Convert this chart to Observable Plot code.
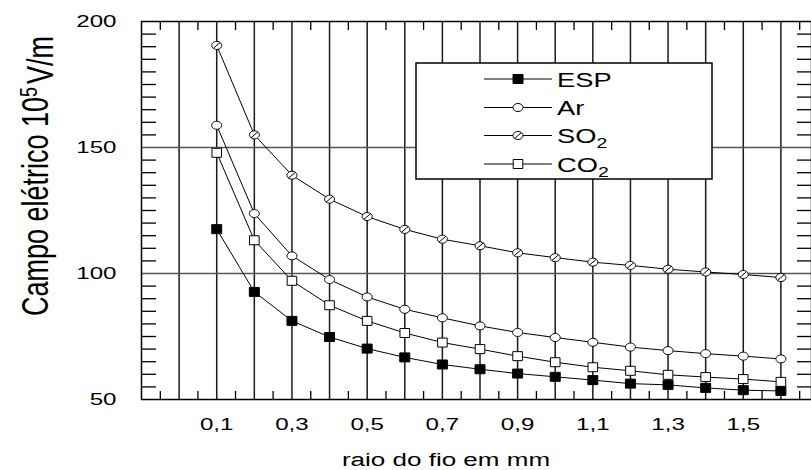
<!DOCTYPE html>
<html><head><meta charset="utf-8">
<script src="https://cdn.jsdelivr.net/npm/d3@7"></script>
<script src="https://cdn.jsdelivr.net/npm/@observablehq/plot@0.6"></script>
<style>html,body{margin:0;padding:0;background:#fff;overflow:hidden}</style>
</head><body><div id="chart"></div>
<script>
// ---- data ----
const raio = [0.1,0.2,0.3,0.4,0.5,0.6,0.7,0.8,0.9,1.0,1.1,1.2,1.3,1.4,1.5,1.6];
const esp  = [117.6,92.7,81.2,74.8,70.2,66.7,63.9,62.0,60.3,59.0,57.7,56.3,55.8,54.6,53.7,53.4];
const ar   = [158.8,123.8,107.0,97.6,90.7,85.8,82.4,79.2,76.6,74.6,72.7,70.8,69.4,68.2,67.2,66.1];
const so2  = [190.5,155.0,139.0,129.5,122.6,117.5,113.6,111.0,108.2,106.3,104.5,103.2,101.7,100.6,99.6,98.4];
const co2  = [147.9,113.2,97.1,87.4,81.2,76.4,72.6,70.0,67.2,64.8,62.8,61.4,59.8,58.9,58.1,57.0];
const seriesNames = ["ESP","Ar","SO2","CO2"];
const legendBase = ["ESP","Ar","SO","CO"];
const legendSub  = ["","","2","2"];
const xTickValues = [0.1,0.3,0.5,0.7,0.9,1.1,1.3,1.5];
const yTickValues = [50,100,150,200];
const xGrid = [0,0.1,0.2,0.3,0.4,0.5,0.6,0.7,0.8,0.9,1.0,1.1,1.2,1.3,1.4,1.5,1.6];
const yGrid = [100,150];
const xMinor = [-0.05,0.05,0.15,0.25,0.35,0.45,0.55,0.65,0.75,0.85,0.95,1.05,1.15,1.25,1.35,1.45,1.55,1.65];
const yMinor = [55,60,65,70,75,80,85,90,95,105,110,115,120,125,130,135,140,145,155,160,165,170,175,180,185,190,195];
const xLabel = "raio do fio em mm";
const yLabelMain = "Campo elétrico 10";
const yLabelSup = "5";
const yLabelUnit = "V/m";

// ---- tidy table ----
const valuesBySeries = [esp, ar, so2, co2];
const rows = [];
seriesNames.forEach((s, i) => raio.forEach((x, j) => rows.push({serie: s, x, y: valuesBySeries[i][j]})));
const of = s => rows.filter(d => d.serie === s);

// ---- marker symbols ----
function ellipsePath(c, rx, ry) {
  const n = 28;
  for (let i = 0; i <= n; i++) {
    const a = 2 * Math.PI * i / n;
    const px = rx * Math.cos(a), py = ry * Math.sin(a);
    if (i === 0) c.moveTo(px, py); else c.lineTo(px, py);
  }
  c.closePath();
}
const symSquare = {draw(c) { c.moveTo(-5,-4.5); c.lineTo(5,-4.5); c.lineTo(5,4.5); c.lineTo(-5,4.5); c.closePath(); }};
const symOpenSquare = {draw(c) { c.moveTo(-4.8,-4.5); c.lineTo(4.8,-4.5); c.lineTo(4.8,4.5); c.lineTo(-4.8,4.5); c.closePath(); }};
const symEllipse = {draw(c) { ellipsePath(c, 5, 4); }};
const symSlash = {draw(c) { ellipsePath(c, 5, 4); c.moveTo(3.4,-2.9); c.lineTo(-3.4,2.9); }};
const markerStyle = [
  {symbol: symSquare, fill: "black"},
  {symbol: symEllipse, fill: "white"},
  {symbol: symSlash, fill: "white"},
  {symbol: symOpenSquare, fill: "white"}
];

const fmt = d => String(d).replace(".", ",");

const plot = Plot.plot({
  width: 811,
  height: 470,
  marginTop: 21,
  marginBottom: 71,
  marginLeft: 141,
  marginRight: 0,
  x: {domain: [-0.1, 1.7], range: [141, 818]},
  y: {domain: [50, 200]},
  style: {fontFamily: "Liberation Sans, Arial, sans-serif", color: "black", background: "white"},
  marks: [
    Plot.ruleX(xGrid, {stroke: "#1a1a1a", strokeWidth: 1.5}),
    Plot.ruleY(yGrid, {stroke: "#555", strokeWidth: 1.5}),
    Plot.axisX({anchor: "bottom", ticks: xMinor, tickSize: -8, tickFormat: () => "", strokeWidth: 1.3, label: null}),
    Plot.axisX({anchor: "top", ticks: xMinor, tickSize: -8, tickFormat: () => "", strokeWidth: 1.3, label: null}),
    Plot.axisY({anchor: "left", ticks: yMinor, tickSize: -15, tickFormat: () => "", strokeWidth: 1.3, label: null}),
    Plot.axisY({anchor: "right", ticks: yMinor, tickSize: -15, tickFormat: () => "", strokeWidth: 1.3, label: null}),
    Plot.axisX({anchor: "bottom", ticks: xTickValues, tickSize: 0, tickPadding: 18, tickFormat: fmt, fontSize: 17, label: null}),
    Plot.axisY({anchor: "left", ticks: yTickValues, tickSize: 0, tickPadding: 25, fontSize: 17, label: null}),
    ...seriesNames.map(s => Plot.line(of(s), {x: "x", y: "y", stroke: "black", strokeWidth: 1})),
    ...seriesNames.map((s, i) => Plot.dot(of(s), {x: "x", y: "y", symbol: markerStyle[i].symbol, fill: markerStyle[i].fill, stroke: "black", strokeWidth: 1})),
    Plot.frame({stroke: "black", strokeWidth: 1.5})
  ]
});
document.getElementById("chart").appendChild(plot);

// horizontally stretched tick labels like the reference
const svg = d3.select(plot);
svg.selectAll('[aria-label="x-axis tick label"] text, [aria-label="y-axis tick label"] text').each(function() {
  const t = this.getAttribute("transform") || "";
  this.setAttribute("transform", t + " scale(1.42,1)");
});

// axis titles
svg.append("text")
  .attr("transform", "translate(446,466) scale(1.37,1)")
  .attr("text-anchor", "middle")
  .attr("font-family", "Liberation Sans, Arial, sans-serif")
  .attr("font-size", 19)
  .attr("fill", "black")
  .text(xLabel);

const yl = svg.append("text")
  .attr("transform", "translate(48,176) rotate(-90) scale(1,1.35)")
  .attr("text-anchor", "middle")
  .attr("font-family", "Liberation Sans, Arial, sans-serif")
  .attr("font-size", 27)
  .attr("fill", "black");
yl.append("tspan").text(yLabelMain);
yl.append("tspan").attr("dy", "-0.45em").attr("font-size", 18).text(yLabelSup);
yl.append("tspan").attr("dy", "0.45em").attr("dx", 3).text(yLabelUnit);

// legend
const lg = svg.append("g").attr("font-family", "Liberation Sans, Arial, sans-serif").attr("text-anchor", "start");
lg.append("rect").attr("x", 416).attr("y", 63).attr("width", 296).attr("height", 116)
  .attr("fill", "white").attr("stroke", "black").attr("stroke-width", 1.5);
const rowY = [79, 107.5, 135.5, 164];
seriesNames.forEach((s, i) => {
  const y = rowY[i];
  lg.append("line").attr("x1", 484).attr("x2", 552).attr("y1", y).attr("y2", y).attr("stroke", "black").attr("stroke-width", 1);
  lg.append("path").attr("d", d3.symbol(markerStyle[i].symbol)()).attr("transform", `translate(518,${y})`)
    .attr("fill", markerStyle[i].fill).attr("stroke", "black").attr("stroke-width", 1);
  const t = lg.append("text").attr("transform", `translate(557,${y + 7.5}) scale(1.3,1)`)
    .attr("text-anchor", "start").attr("font-size", 21).attr("fill", "black");
  t.append("tspan").text(legendBase[i]);
  if (legendSub[i]) t.append("tspan").attr("dy", "0.35em").attr("font-size", 15).text(legendSub[i]);
});
</script>
</body></html>
